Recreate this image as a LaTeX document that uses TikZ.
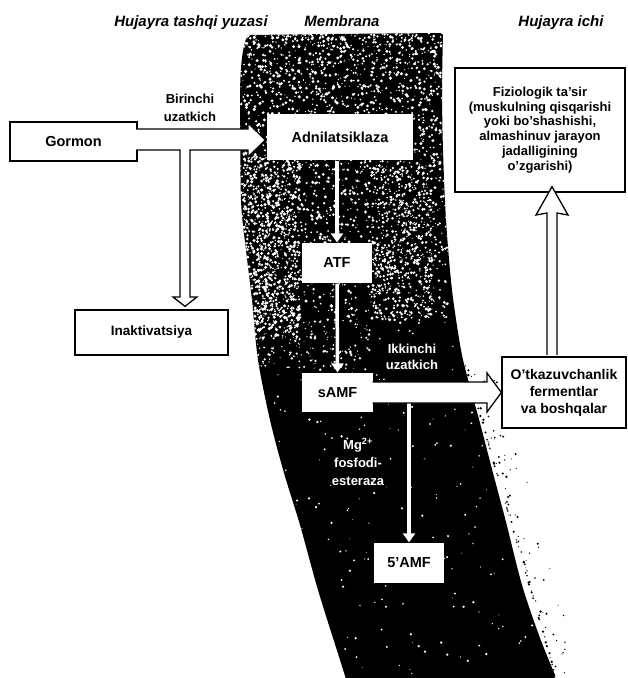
\documentclass[tikz,border=0pt]{standalone}
\usepackage{fontspec}
\setmainfont{Liberation Sans}
\usetikzlibrary{calc,arrows.meta}
\begin{document}
\begin{tikzpicture}[x=1pt,y=-1pt,
  box/.style={draw=black, line width=1.3pt, fill=white, inner sep=0pt, align=center,
    font=\bfseries\fontsize{14.5}{16}\selectfont},
  inbox/.style={box, draw=none},
  toplabel/.style={font=\bfseries\itshape\fontsize{15}{17}\selectfont, anchor=base},
  wlabel/.style={text=white, align=center, font=\bfseries\fontsize{13}{16}\selectfont},
  whitearrow/.style={draw=white, line width=3.5pt, -{Triangle[width=12pt,length=9pt]}},
  fatarrow/.style={fill=white, draw=black, line width=1.3pt, line join=miter},
]
\useasboundingbox (0,0) rectangle (628,678);
\fill[white] (0,0) rectangle (628,678);

\def\membranepath{(248,35) .. controls (242,45) and (240,70) .. (240,100)
  -- plot[smooth] coordinates {(240,100) (241,200) (246,250) (252,300) (258,360) (270,420) (284,473) (300,525) (318,590) (340,660) (347,682)}
  -- (560,682)
  -- plot[smooth] coordinates {(558,682) (540,638) (522,585) (506,522) (493,473) (480,423) (469,383) (461,350) (452,290) (446,220) (443,150) (442,90) (443,33)}
  -- (330,34) -- cycle}

% membrane
\fill[black] \membranepath;
\begin{scope}
  \clip \membranepath;
  \pgfmathsetseed{2024}
  \foreach \i in {1,...,2300}{
    \pgfmathsetmacro\px{236+212*rnd}
    \pgfmathsetmacro\py{33+290*rnd^1.3}
    \pgfmathsetmacro\pr{0.5+1.2*rnd}
    \fill[white] (\px,\py) circle[radius=\pr pt];
  }
  \foreach \i in {1,...,800}{
    \pgfmathsetmacro\px{243+57*rnd}
    \pgfmathsetmacro\py{150+190*rnd}
    \pgfmathsetmacro\pr{0.5+1.2*rnd}
    \fill[white] (\px,\py) circle[radius=\pr pt];
  }
  \foreach \i in {1,...,500}{
    \pgfmathsetmacro\px{372+60*rnd}
    \pgfmathsetmacro\py{165+155*rnd}
    \pgfmathsetmacro\pr{0.5+1.0*rnd}
    \fill[white] (\px,\py) circle[radius=\pr pt];
  }
  \foreach \i in {1,...,150}{
    \pgfmathsetmacro\px{250+120*rnd}
    \pgfmathsetmacro\py{320+50*rnd}
    \pgfmathsetmacro\pr{0.4+1.0*rnd}
    \fill[white] (\px,\py) circle[radius=\pr pt];
  }
  \foreach \i in {1,...,260}{
    \pgfmathsetmacro\px{260+300*rnd}
    \pgfmathsetmacro\py{330+350*rnd}
    \pgfmathsetmacro\pr{0.4+0.9*rnd}
    \fill[white] (\px,\py) circle[radius=\pr pt];
  }
\end{scope}
% specks along the right edge
\foreach \i in {1,...,130}{
  \pgfmathsetmacro\py{365+313*rnd}
  \pgfmathsetmacro\px{463+(\py-357)*0.29+28*rnd^3}
  \pgfmathsetmacro\pr{0.5+0.8*rnd}
  \fill[black] (\px,\py) circle[radius=\pr pt];
}

% top labels
\node[toplabel] (outside) at (191,26) {Hujayra tashqi yuzasi};
\node[toplabel] (membrana) at (342,26) {Membrana};
\node[toplabel] (inside) at (561,26) {Hujayra ichi};

% boxes
\node[box, minimum width=127pt, minimum height=39pt] (gormon) at (73.5,141.5) {Gormon};
\node[box, minimum width=153pt, minimum height=45pt, font=\bfseries\fontsize{13.5}{16}\selectfont] (inakt) at (151.5,332.5) {Inaktivatsiya};
\node[inbox, minimum width=146pt, minimum height=46pt] (adnil) at (340,137) {Adnilatsiklaza};
\node[inbox, minimum width=70pt, minimum height=40pt] (atf) at (337,263) {ATF};
\node[inbox, minimum width=71pt, minimum height=39pt] (samf) at (337.5,392.5) {sAMF};
\node[inbox, minimum width=70pt, minimum height=40pt] (amf) at (409,563) {5'AMF};
\node[box, minimum width=170pt, minimum height=124pt, font=\bfseries\fontsize{13}{14.8}\selectfont] (fiz) at (540,130)
  {Fiziologik ta'sir\\(muskulning qisqarishi\\yoki bo'shashishi,\\almashinuv jarayon\\jadalligining\\o'zgarishi)};
\node[box, minimum width=124pt, minimum height=71pt, font=\bfseries\fontsize{14}{17}\selectfont] (otkaz) at (564,392.5)
  {O'tkazuvchanlik\\fermentlar\\va boshqalar};

% labels
\node[align=center, font=\bfseries\fontsize{13}{18}\selectfont] (birinchi) at (190,107.5) {Birinchi\\uzatkich};
\node[wlabel] (ikkinchi) at (412,357) {Ikkinchi\\uzatkich};
\node[wlabel, font=\bfseries\fontsize{13}{18}\selectfont] (mg) at (358,462) {Mg\textsuperscript{2+}\\fosfodi-\\esteraza};

% hollow arrow: Gormon -> Adnilatsiklaza, branch -> Inaktivatsiya
\filldraw[fatarrow] ($(gormon.east)+(-1.5,-12.5)$) -- (248,129) -- (248,123) -- ($(adnil.west)+(-1,3)$)
  -- (248,157) -- (248,150) -- (190,150) -- (190,297) -- (197,297) -- ($(inakt.north)+(33.5,-3)$)
  -- (173,297) -- (180,297) -- (180,150) -- ($(gormon.east)+(-1.5,8.5)$);

% white arrows in the membrane
\draw[whitearrow] (atf.north |- adnil.south) -- (atf.north);
\draw[whitearrow] (atf.south) -- (samf.north);
\draw[whitearrow] ($(amf.north |- samf.center)+(0,9)$) -- (amf.north);

% hollow arrow: sAMF -> O'tkazuvchanlik
\filldraw[fatarrow] ($(samf.east)+(-1,-10.5)$) -- (487,382) -- (487,373) -- (otkaz.west)
  -- (487,412) -- (487,403) -- ($(samf.east)+(-1,10.5)$);

% hollow arrow: O'tkazuvchanlik -> Fiziologik ta'sir
\filldraw[fatarrow] ($(otkaz.north)+(-17,-1.5)$) -- (547,213) -- (536,215) -- ($(fiz.south)+(12,-6)$)
  -- (568,215) -- (557,213) -- ($(otkaz.north)+(-7,-1.5)$);
\end{tikzpicture}
\end{document}
